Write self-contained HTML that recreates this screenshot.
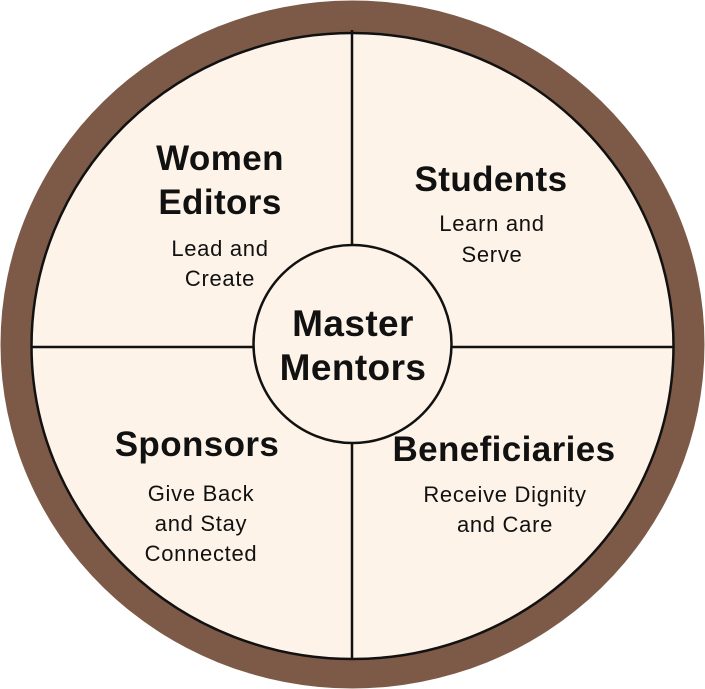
<!DOCTYPE html>
<html><head><style>
html,body{margin:0;padding:0;background:#fff;}
svg{display:block;}
text{font-family:"Liberation Sans",sans-serif;fill:#111;text-anchor:middle;}
.t{font-size:35px;font-weight:bold;letter-spacing:0.4px;}
.m{font-size:37px;font-weight:bold;letter-spacing:0.4px;}
.s{font-size:22px;letter-spacing:0.7px;}
</style></head><body>
<svg width="705" height="689" viewBox="0 0 705 689">
<ellipse cx="352.5" cy="344.5" rx="352" ry="344" fill="#7d5a47"/>
<ellipse cx="352.5" cy="346" rx="321" ry="313" fill="#fdf3e8" stroke="#111" stroke-width="2.5"/>
<line x1="352" y1="30" x2="352" y2="660" stroke="#111" stroke-width="2.5"/>
<line x1="32" y1="347" x2="674" y2="347" stroke="#111" stroke-width="2.5"/>
<circle cx="352.5" cy="344" r="99" fill="#fdf3e8" stroke="#111" stroke-width="2.5"/>
<text class="t" x="220" y="170">Women</text>
<text class="t" x="220" y="214">Editors</text>
<text class="s" x="220" y="256">Lead and</text>
<text class="s" x="220" y="286">Create</text>
<text class="t" x="491" y="191">Students</text>
<text class="s" x="492" y="231">Learn and</text>
<text class="s" x="492" y="262">Serve</text>
<text class="m" x="353" y="336">Master</text>
<text class="m" x="353" y="380">Mentors</text>
<text class="t" x="197" y="456">Sponsors</text>
<text class="s" x="201" y="501">Give Back</text>
<text class="s" x="201" y="531">and Stay</text>
<text class="s" x="201" y="561">Connected</text>
<text class="t" x="504" y="461">Beneficiaries</text>
<text class="s" x="505" y="502">Receive Dignity</text>
<text class="s" x="505" y="532">and Care</text>
</svg>
</body></html>
